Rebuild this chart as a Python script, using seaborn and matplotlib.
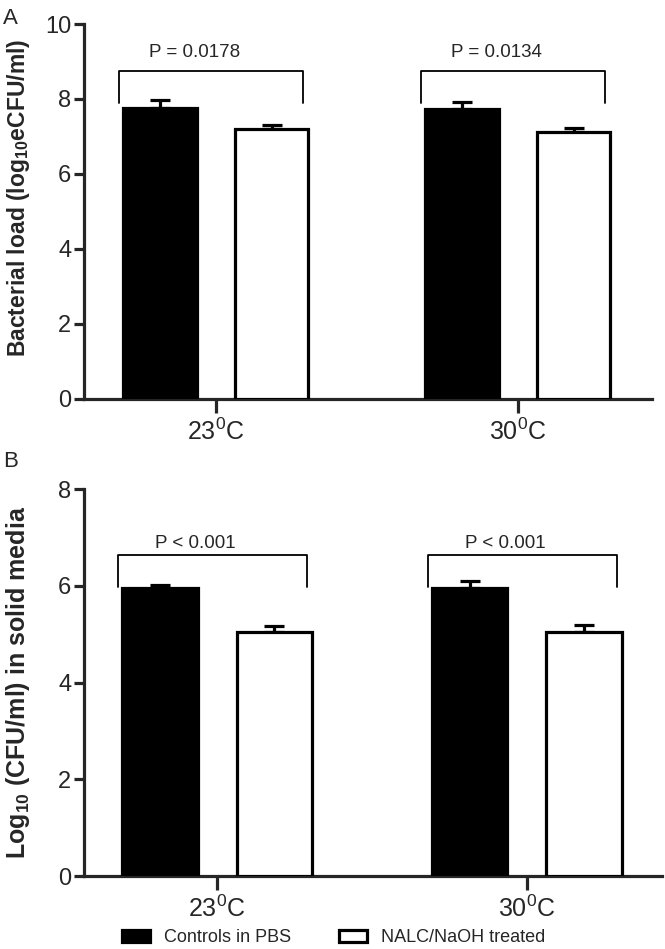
import pandas as pd
import matplotlib
matplotlib.use("Agg")
import matplotlib.pyplot as plt
import seaborn as sns
from matplotlib.patches import Patch

sns.set_style("ticks")
plt.rcParams['font.family'] = ['Liberation Sans', 'DejaVu Sans']
plt.rcParams['mathtext.fontset'] = 'custom'
plt.rcParams['mathtext.rm'] = 'Liberation Sans'
plt.rcParams['mathtext.bf'] = 'Liberation Sans:bold'

temps = ["23$^{0}$C", "30$^{0}$C"]
groups = ["Controls in PBS", "NALC/NaOH treated"]

# panel A: bacterial load, means and upper error
a_means = {"Controls in PBS": [7.77, 7.72], "NALC/NaOH treated": [7.19, 7.12]}
a_errs = {"Controls in PBS": [0.20, 0.21], "NALC/NaOH treated": [0.12, 0.10]}
a_pvals = ["P = 0.0178", "P = 0.0134"]

# panel B: solid media counts
b_means = {"Controls in PBS": [5.95, 5.95], "NALC/NaOH treated": [5.04, 5.04]}
b_errs = {"Controls in PBS": [0.06, 0.14], "NALC/NaOH treated": [0.12, 0.15]}
b_pvals = ["P < 0.001", "P < 0.001"]

colors = ["black", "white"]
LW = 2.3


def make_df(means, errs):
    rows = []
    for g in groups:
        for i, t in enumerate(temps):
            rows.append({"temp": t, "group": g, "value": means[g][i], "err": errs[g][i]})
    return pd.DataFrame(rows)


def panel(ax, df, ymax, br_top, br_leg, p_y, pvals, xlim):
    sns.barplot(data=df, x="temp", y="value", hue="group", hue_order=groups,
                palette=colors, edgecolor="black", linewidth=LW, width=0.74, gap=0.34,
                errorbar=None, legend=False, ax=ax, zorder=3)
    # one sided error bars on top of each bar
    bars = sorted(ax.patches, key=lambda p: p.get_x())
    errs = []
    for t in temps:
        for g in groups:
            errs.append(df[(df.temp == t) & (df.group == g)].err.iloc[0])
    xs = [b.get_x() + b.get_width() / 2 for b in bars]
    ys = [b.get_height() for b in bars]
    ax.errorbar(xs, ys, yerr=[[0] * len(errs), errs], fmt='none', ecolor='black',
                elinewidth=LW, capsize=7.5, capthick=LW, zorder=2)
    # significance brackets
    for i, p in enumerate(pvals):
        x0, x1 = i - 0.32, i + 0.29
        ax.plot([x0, x0, x1, x1], [br_leg, br_top, br_top, br_leg], color='black', lw=1.3)
        ax.text(i - 0.07, p_y, p, ha='center', va='center', fontsize=13.5)
    ax.set_ylim(0, ymax)
    ax.set_xlim(*xlim)
    ax.set_yticks(range(0, ymax + 1, 2))
    ax.set_xlabel("")
    sns.despine(ax=ax)
    for s in ["left", "bottom"]:
        ax.spines[s].set_linewidth(LW)
    ax.tick_params(axis='y', length=7, width=LW, labelsize=17, pad=2)
    ax.tick_params(axis='x', length=10, width=LW, labelsize=18, pad=4)


fig = plt.figure(figsize=(6.65, 9.49), dpi=100)

axA = fig.add_axes([0.126, 0.5796, 0.854, 0.3951])
panel(axA, make_df(a_means, a_errs), 10, 8.75, 7.9, 9.24, a_pvals, (-0.437, 1.444))
axA.set_ylabel("Bacterial load (log$_{\\mathbf{10}}$eCFU/ml)", fontsize=16.5, fontweight='bold')
axA.yaxis.set_label_coords(-0.092, 0.535)

axB = fig.add_axes([0.126, 0.0769, 0.869, 0.4078])
panel(axB, make_df(b_means, b_errs), 8, 6.63, 5.97, 6.88, b_pvals, (-0.43, 1.435))
axB.set_ylabel("Log$_{\\mathbf{10}}$ (CFU/ml) in solid media", fontsize=18, fontweight='bold')
axB.yaxis.set_label_coords(-0.09, 0.5)

fig.text(0.004, 0.981, "A", fontsize=16, va='center')
fig.text(0.004, 0.514, "B", fontsize=16, va='center')

handles = [Patch(facecolor=c, edgecolor='black', linewidth=LW) for c in colors]
fig.legend(handles, groups, loc='center', bbox_to_anchor=(0.502, 0.012), ncol=2,
           frameon=False, fontsize=13, handlelength=1.55, handleheight=0.65,
           columnspacing=2.65, handletextpad=0.78)

fig.savefig("out.png", dpi=100)
